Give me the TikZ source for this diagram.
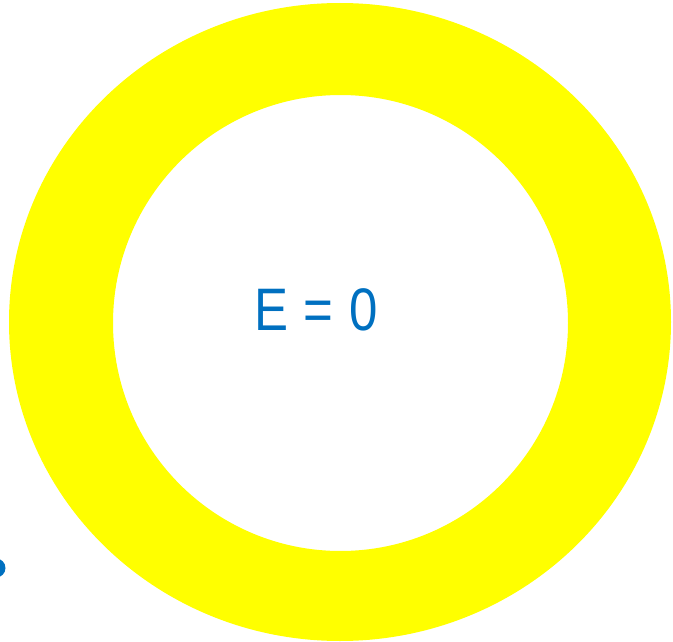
\documentclass[tikz,border=0pt]{standalone}
\usepackage{fontspec}
\setmainfont{Liberation Sans}
\definecolor{ringyellow}{HTML}{FFFF00}
\definecolor{textblue}{HTML}{0070C0}
\begin{document}
\begin{tikzpicture}[x=1pt,y=-1pt,
  labeltext/.style={text=textblue,font=\fontsize{60}{60}\selectfont,inner sep=0pt,anchor=center}]
\useasboundingbox (0,0) rectangle (673,642);
\fill[ringyellow,even odd rule] (340,322) ellipse [x radius=331,y radius=319]
  (340.5,323) ellipse [x radius=227.5,y radius=228];
\node[labeltext,xscale=0.85] (eq) at (316,310) {E\hspace{0.3em}=\hspace{0.3em}0};
\fill[textblue] (-4,568) circle [radius=9.5];
\end{tikzpicture}
\end{document}
